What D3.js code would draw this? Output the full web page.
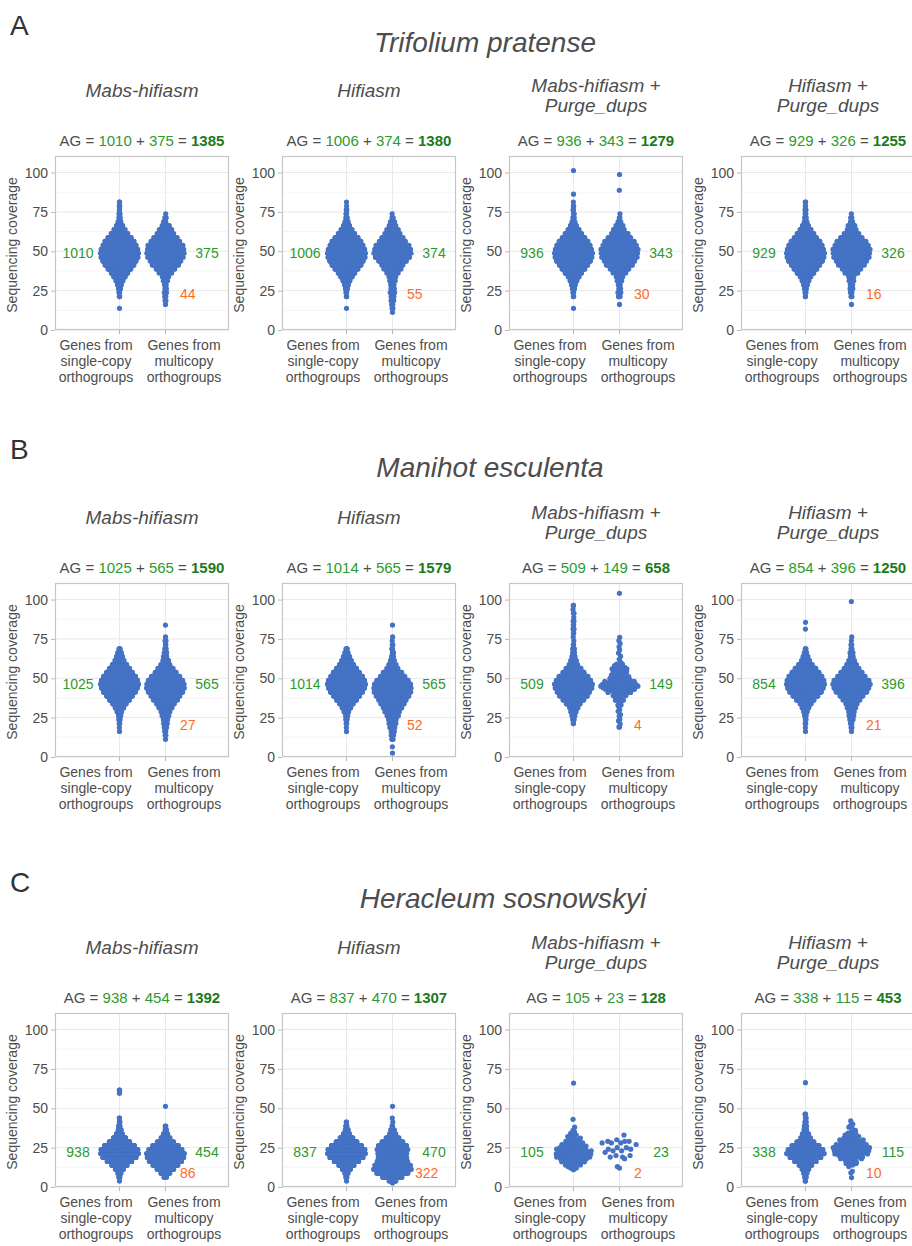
<!DOCTYPE html>
<html>
<head>
<meta charset="utf-8">
<script src="https://cdn.jsdelivr.net/npm/d3@7"></script>
<style>
  body { margin: 0; background: #fff; }
  text { font-family: "Liberation Sans", Arial, sans-serif; }
</style>
</head>
<body>
<div id="chart"></div>
<script>

// coverage distributions: [coverage, number of genes]
const tp_mabs_single = [[13.75,1],[21.25,2],[23.75,3],[26.25,5],[28.75,10],[31.25,18],[33.75,30],[36.25,46],[38.75,62],[41.25,80],[43.75,95],[46.25,104],[48.75,106],[51.25,103],[53.75,93],[56.25,81],[58.75,64],[61.25,47],[63.75,29],[66.25,15],[68.75,7],[71.25,4],[73.75,3],[76.25,2],[78.75,2],[81.25,2]]
const tp_mabs_multi = [[16.25,1],[18.75,2],[21.25,2],[23.75,3],[26.25,3],[28.75,3],[31.25,4],[33.75,6],[36.25,12],[38.75,22],[41.25,28],[43.75,33],[46.25,37],[48.75,40],[51.25,40],[53.75,37],[56.25,31],[58.75,24],[61.25,18],[63.75,13],[66.25,8],[68.75,3],[71.25,2],[73.75,1]]
const tp_hifi_single = [[13.75,1],[21.25,2],[23.75,3],[26.25,5],[28.75,10],[31.25,18],[33.75,30],[36.25,46],[38.75,62],[41.25,80],[43.75,95],[46.25,104],[48.75,105],[51.25,102],[53.75,92],[56.25,80],[58.75,63],[61.25,46],[63.75,29],[66.25,15],[68.75,7],[71.25,4],[73.75,3],[76.25,2],[78.75,1],[81.25,1]]
const tp_hifi_multi = [[11.25,1],[13.75,2],[16.25,2],[18.75,3],[21.25,5],[23.75,6],[26.25,4],[28.75,4],[31.25,5],[33.75,8],[36.25,12],[38.75,18],[41.25,24],[43.75,30],[46.25,36],[48.75,42],[51.25,42],[53.75,34],[56.25,28],[58.75,22],[61.25,17],[63.75,12],[66.25,8],[68.75,4],[71.25,2],[73.75,1]]
const tp_mabspd_single = [[13.75,1],[21.25,2],[23.75,3],[26.25,5],[28.75,9],[31.25,16],[33.75,27],[36.25,42],[38.75,57],[41.25,74],[43.75,88],[46.25,96],[48.75,98],[51.25,95],[53.75,86],[56.25,74],[58.75,58],[61.25,42],[63.75,26],[66.25,14],[68.75,7],[71.25,4],[73.75,3],[76.25,2],[78.75,2],[81.25,1],[86.25,1],[101.25,1]]
const tp_mabspd_multi = [[16.25,1],[21.25,3],[23.75,4],[26.25,3],[28.75,3],[31.25,4],[33.75,6],[36.25,11],[38.75,20],[41.25,26],[43.75,30],[46.25,34],[48.75,37],[51.25,37],[53.75,34],[56.25,28],[58.75,22],[61.25,16],[63.75,11],[66.25,7],[68.75,3],[71.25,2],[73.75,1],[88.75,1],[98.75,1]]
const tp_hifipd_single = [[21.25,2],[23.75,3],[26.25,5],[28.75,9],[31.25,16],[33.75,27],[36.25,42],[38.75,57],[41.25,74],[43.75,88],[46.25,96],[48.75,98],[51.25,95],[53.75,86],[56.25,74],[58.75,58],[61.25,42],[63.75,26],[66.25,14],[68.75,7],[71.25,4],[73.75,3],[76.25,2],[78.75,2],[81.25,2]]
const tp_hifipd_multi = [[16.25,1],[21.25,2],[23.75,3],[26.25,3],[28.75,3],[31.25,4],[33.75,6],[36.25,11],[38.75,19],[41.25,25],[43.75,29],[46.25,33],[48.75,36],[51.25,36],[53.75,33],[56.25,27],[58.75,20],[61.25,14],[63.75,9],[66.25,6],[68.75,3],[71.25,2],[73.75,1]]

const me_mabs_single = [[16.25,1],[18.75,1],[21.25,2],[23.75,4],[26.25,7],[28.75,13],[31.25,24],[33.75,40],[36.25,60],[38.75,80],[41.25,98],[43.75,115],[46.25,120],[48.75,115],[51.25,98],[53.75,80],[56.25,60],[58.75,42],[61.25,28],[63.75,18],[66.25,10],[68.75,4]]
const me_mabs_multi = [[11.25,1],[13.75,2],[16.25,3],[18.75,4],[21.25,6],[23.75,8],[26.25,10],[28.75,14],[31.25,20],[33.75,28],[36.25,38],[38.75,48],[41.25,56],[43.75,62],[46.25,62],[48.75,56],[51.25,46],[53.75,34],[56.25,22],[58.75,14],[61.25,9],[63.75,6],[66.25,4],[68.75,3],[71.25,2],[73.75,2],[76.25,1],[83.75,1]]
const me_hifi_single = [[16.25,1],[18.75,1],[21.25,2],[23.75,4],[26.25,7],[28.75,13],[31.25,24],[33.75,40],[36.25,59],[38.75,79],[41.25,97],[43.75,113],[46.25,118],[48.75,113],[51.25,96],[53.75,79],[56.25,59],[58.75,41],[61.25,28],[63.75,18],[66.25,10],[68.75,4]]
const me_hifi_multi = [[2.5,1],[6.5,1],[11.25,3],[13.75,4],[16.25,6],[18.75,8],[21.25,10],[23.75,13],[26.25,17],[28.75,22],[31.25,28],[33.75,34],[36.25,42],[38.75,50],[41.25,55],[43.75,58],[46.25,56],[48.75,48],[51.25,38],[53.75,26],[56.25,16],[58.75,10],[61.25,6],[63.75,4],[66.25,3],[68.75,2],[71.25,2],[73.75,1],[76.25,1],[83.75,1]]
const me_mabspd_single = [[21.25,2],[23.75,3],[26.25,5],[28.75,8],[31.25,13],[33.75,22],[36.25,32],[38.75,44],[41.25,54],[43.75,60],[46.25,62],[48.75,56],[51.25,46],[53.75,34],[56.25,22],[58.75,13],[61.25,8],[63.75,5],[66.25,4],[68.75,3],[71.25,2],[73.75,1],[76.25,1],[78.75,2],[81.25,2],[83.75,2],[86.25,2],[88.75,1],[91.25,2],[93.75,1],[96.25,2]]
const me_mabspd_multi = [[19,2],[21,1],[23,1],[24,1],[26,1],[27,1],[29,1],[30,1],[32,1],[33,2],[35,2],[36,2],[37,2],[38,3],[39,3],[40,4],[41,4],[42,6],[43,9],[44,11],[45,12],[46,11],[47,10],[48,7],[49,5],[50,4],[51,4],[52,4],[53,3],[54,4],[55,4],[56,5],[57,4],[58,3],[59,2],[60,1],[62,1],[64,1],[66,1],[68,1],[70,1],[72,1],[74,1],[76,1],[104,1]]
const me_hifipd_single = [[16.25,1],[18.75,1],[21.25,2],[23.75,3],[26.25,4],[28.75,8],[31.25,16],[33.75,28],[36.25,44],[38.75,66],[41.25,84],[43.75,98],[46.25,102],[48.75,98],[51.25,88],[53.75,72],[56.25,54],[58.75,34],[61.25,20],[63.75,11],[66.25,6],[68.75,3],[81.25,1],[85.5,1]]
const me_hifipd_multi = [[16.25,1],[18.75,2],[21.25,3],[23.75,5],[26.25,6],[28.75,8],[31.25,10],[33.75,14],[36.25,20],[38.75,28],[41.25,40],[43.75,46],[46.25,50],[48.75,46],[51.25,34],[53.75,26],[56.25,18],[58.75,12],[61.25,8],[63.75,5],[66.25,3],[68.75,2],[71.25,2],[73.75,1],[76.25,1],[98.75,1]]

const hs_mabs_single = [[3.75,1],[6.25,3],[8.75,10],[11.25,26],[13.75,56],[16.25,97],[18.75,140],[21.25,163],[23.75,157],[26.25,124],[28.75,79],[31.25,41],[33.75,20],[36.25,10],[38.75,5],[41.25,3],[43.75,2],[59.5,1],[61.5,2]]
const hs_mabs_multi = [[6.25,4],[8.75,14],[11.25,30],[13.75,44],[16.25,58],[18.75,66],[21.25,70],[23.75,62],[26.25,44],[28.75,27],[31.25,14],[33.75,7],[36.25,3],[38.75,2],[51.25,1]]
const hs_hifi_single = [[3.75,1],[6.25,3],[8.75,9],[11.25,24],[13.75,50],[16.25,86],[18.75,124],[21.25,145],[23.75,140],[26.25,112],[28.75,72],[31.25,38],[33.75,18],[36.25,9],[38.75,4],[41.25,2]]
const hs_hifi_multi = [[2.5,1],[3.75,6],[6.25,26],[8.75,48],[11.25,56],[13.75,54],[16.25,38],[18.75,32],[21.25,42],[23.75,46],[26.25,40],[28.75,30],[31.25,18],[33.75,7],[36.25,4],[38.75,2],[41.25,1],[43.75,1],[51.25,1]]
const hs_mabspd_single = [[11,1],[12,2],[13,3],[14,3],[15,4],[16,4],[17,5],[18,5],[19,7],[20,7],[21,7],[22,8],[23,7],[24,6],[25,5],[26,5],[27,4],[28,4],[29,3],[30,3],[31,2],[32,2],[33,2],[34,1],[35,1],[36,1],[38,1],[43,1],[66,1]]
const hs_mabspd_multi = [[12,1],[13,1],[18,1],[19,2],[20,2],[22,1],[23,2],[24,2],[25,2],[27,1],[28,3],[29,3],[30,1],[33,1]]
const hs_hifipd_single = [[3.75,2],[6.25,3],[8.75,5],[11.25,9],[13.75,16],[16.25,30],[18.75,50],[21.25,65],[23.75,56],[26.25,40],[28.75,24],[31.25,13],[33.75,8],[36.25,5],[38.75,4],[41.25,3],[43.75,2],[46.25,2],[66.25,1]]
const hs_hifipd_multi = [[6,1],[9,1],[10,1],[13,1],[14,2],[15,2],[16,3],[17,3],[18,4],[19,5],[20,6],[21,7],[22,8],[23,8],[24,8],[25,7],[26,7],[27,6],[28,6],[29,5],[30,5],[31,4],[32,3],[33,3],[34,2],[35,2],[36,1],[38,2],[39,1],[40,1],[42,1]]

const letters = ["A", "B", "C"]
const species = ["Trifolium pratense", "Manihot esculenta", "Heracleum sosnowskyi"]
const methods = [["Mabs-hifiasm"], ["Hifiasm"], ["Mabs-hifiasm +", "Purge_dups"], ["Hifiasm +", "Purge_dups"]]
const singleN = [[1010, 1006, 936, 929], [1025, 1014, 509, 854], [938, 837, 105, 338]]
const multiN = [[375, 374, 343, 326], [565, 565, 149, 396], [454, 470, 23, 115]]
const totalN = [[1385, 1380, 1279, 1255], [1590, 1579, 658, 1250], [1392, 1307, 128, 453]]
const lowN = [[44, 55, 30, 16], [27, 52, 4, 21], [86, 322, 2, 10]]
const countLabelAt = [49, 46, 22]
const lowLabelAt = [23, 20, 9]
const yTicks = [0, 25, 50, 75, 100]
const yMinor = [12.5, 37.5, 62.5, 87.5]
const categories = [["Genes from", "single-copy", "orthogroups"], ["Genes from", "multicopy", "orthogroups"]]

const swarms = [
  [[tp_mabs_single, tp_mabs_multi], [tp_hifi_single, tp_hifi_multi], [tp_mabspd_single, tp_mabspd_multi], [tp_hifipd_single, tp_hifipd_multi]],
  [[me_mabs_single, me_mabs_multi], [me_hifi_single, me_hifi_multi], [me_mabspd_single, me_mabspd_multi], [me_hifipd_single, me_hifipd_multi]],
  [[hs_mabs_single, hs_mabs_multi], [hs_hifi_single, hs_hifi_multi], [hs_mabspd_single, hs_mabspd_multi], [hs_hifipd_single, hs_hifipd_multi]]
]

// layout
var W = 912, H = 1246
var rowTop = [156, 583, 1013]
var panelLeft = [55, 282, 509, 741]
var boxW = 174, boxH = 174
var speciesX = [485, 490, 503], speciesY = [52, 477, 908], letterY = [35, 459, 892]
var textCol = "#4d4d4d", green = "#2e9a2e", darkGreen = "#1b7a1b", orange = "#ff6b24", dotCol = "#4472c4"
var halfWidth = 19, bw = 2.5

var svg = d3.select("#chart").append("svg")
  .attr("width", W)
  .attr("height", H)
svg.append("rect").attr("width", W).attr("height", H).attr("fill", "#fff")

// van der Corput sequence, used like geom_quasirandom
function vdc(k) {
  var q = 0, b = 0.5
  while (k > 0) { q += (k % 2) * b; k = Math.floor(k / 2); b /= 2 }
  return q
}

function layout(pairs) {
  var sorted = pairs.slice().sort(function (a, b) { return a[0] - b[0] })
  var dens = sorted.map(function (p) {
    return d3.sum(sorted, function (q) { var z = (p[0] - q[0]) / bw; return q[1] * Math.exp(-0.5 * z * z) })
  })
  var maxD = d3.max(dens)
  var pts = [], rank = 1
  sorted.forEach(function (p, j) {
    var hw = halfWidth * dens[j] / maxD
    for (var i = 0; i < p[1]; i++) {
      pts.push({ v: p[0], dx: (2 * vdc(rank) - 1) * hw })
      rank++
    }
  })
  return pts
}

letters.forEach(function (letter, r) {
  svg.append("text").attr("x", 10).attr("y", letterY[r])
    .attr("font-size", 28).attr("fill", "#333").text(letter)
  svg.append("text").attr("x", speciesX[r]).attr("y", speciesY[r])
    .attr("text-anchor", "middle").attr("font-size", 28).attr("font-style", "italic")
    .attr("fill", textCol).text(species[r])

  methods.forEach(function (m, c) {
    var left = panelLeft[c], top = rowTop[r], bottom = top + boxH
    var g = svg.append("g")
    var y = d3.scaleLinear().domain([0, 110.5]).range([bottom, top])
    var x = d3.scalePoint().domain([0, 1]).range([left + 64.5, left + 110.5])

    // method title
    var t = g.append("text").attr("text-anchor", "middle").attr("font-size", 19)
      .attr("font-style", "italic").attr("fill", textCol)
    m.forEach(function (line, i) {
      var by = m.length == 1 ? top - 59 : top - 64.5 + i * 20.5
      t.append("tspan").attr("x", left + boxW / 2).attr("y", by).text(line)
    })

    // AG = a + b = total
    var ag = g.append("text").attr("x", left + boxW / 2).attr("y", top - 10)
      .attr("text-anchor", "middle").attr("font-size", 15).attr("fill", textCol)
    ag.append("tspan").text("AG = ")
    ag.append("tspan").attr("fill", green).text(singleN[r][c])
    ag.append("tspan").text(" + ")
    ag.append("tspan").attr("fill", green).text(multiN[r][c])
    ag.append("tspan").text(" = ")
    ag.append("tspan").attr("fill", darkGreen).attr("font-weight", "bold").text(totalN[r][c])

    // grid
    g.selectAll(".minor").data(yMinor).enter().append("line")
      .attr("x1", left).attr("x2", left + boxW)
      .attr("y1", function (d) { return y(d) }).attr("y2", function (d) { return y(d) })
      .attr("stroke", "#f3f3f3").attr("stroke-width", 0.8)
    g.selectAll(".major").data(yTicks).enter().append("line")
      .attr("x1", left).attr("x2", left + boxW)
      .attr("y1", function (d) { return y(d) }).attr("y2", function (d) { return y(d) })
      .attr("stroke", "#e9e9e9").attr("stroke-width", 1)
    g.selectAll(".vgrid").data([0, 1]).enter().append("line")
      .attr("x1", function (d) { return x(d) }).attr("x2", function (d) { return x(d) })
      .attr("y1", top).attr("y2", bottom)
      .attr("stroke", "#e9e9e9").attr("stroke-width", 1)

    // y axis
    var yAxis = d3.axisLeft(y).tickValues(yTicks).tickSize(4).tickPadding(3)
    var ya = g.append("g").attr("transform", "translate(" + left + ",0)").call(yAxis)
    ya.select(".domain").remove()
    ya.selectAll("line").attr("stroke", "#b8b8b8")
    ya.selectAll("text").attr("font-size", 14).attr("fill", textCol)
      .style("font-family", '"Liberation Sans", Arial, sans-serif')

    // bottom ticks
    g.selectAll(".xtick").data([0, 1]).enter().append("line")
      .attr("x1", function (d) { return x(d) }).attr("x2", function (d) { return x(d) })
      .attr("y1", bottom).attr("y2", bottom + 4)
      .attr("stroke", "#b8b8b8")

    g.append("text")
      .attr("transform", "translate(" + (left - 38) + "," + (top + boxH / 2 + 2) + ") rotate(-90)")
      .attr("text-anchor", "middle").attr("font-size", 14).attr("fill", textCol)
      .text("Sequencing coverage")

    // category labels
    var catX = [left + 41, left + 129]
    categories.forEach(function (lines, k) {
      var ct = g.append("text").attr("text-anchor", "middle").attr("font-size", 14).attr("fill", textCol)
      lines.forEach(function (line, i) {
        ct.append("tspan").attr("x", catX[k]).attr("y", bottom + 20 + i * 16).text(line)
      })
    })

    // swarms
    swarms[r][c].forEach(function (pairs, k) {
      g.append("g").selectAll("circle")
        .data(layout(pairs))
        .enter()
        .append("circle")
        .attr("cx", function (d) { return x(k) + d.dx })
        .attr("cy", function (d) { return y(d.v) })
        .attr("r", 2.6)
        .attr("fill", dotCol)
    })

    // border
    g.append("rect").attr("x", left + 0.5).attr("y", top + 0.5)
      .attr("width", boxW - 1).attr("height", boxH - 1)
      .attr("fill", "none").attr("stroke", "#c6c6c6").attr("stroke-width", 1.2)

    // counts
    g.append("text").attr("x", left + 23).attr("y", y(countLabelAt[r])).attr("dy", "0.35em")
      .attr("text-anchor", "middle").attr("font-size", 14).attr("fill", green).text(singleN[r][c])
    g.append("text").attr("x", left + 152).attr("y", y(countLabelAt[r])).attr("dy", "0.35em")
      .attr("text-anchor", "middle").attr("font-size", 14).attr("fill", green).text(multiN[r][c])
    var lowX = String(lowN[r][c]).length > 2 ? left + 133 : left + 125
    g.append("text").attr("x", lowX).attr("y", y(lowLabelAt[r])).attr("dy", "0.35em")
      .attr("font-size", 14).attr("fill", orange).text(lowN[r][c])
  })
})

</script>
</body>
</html>
